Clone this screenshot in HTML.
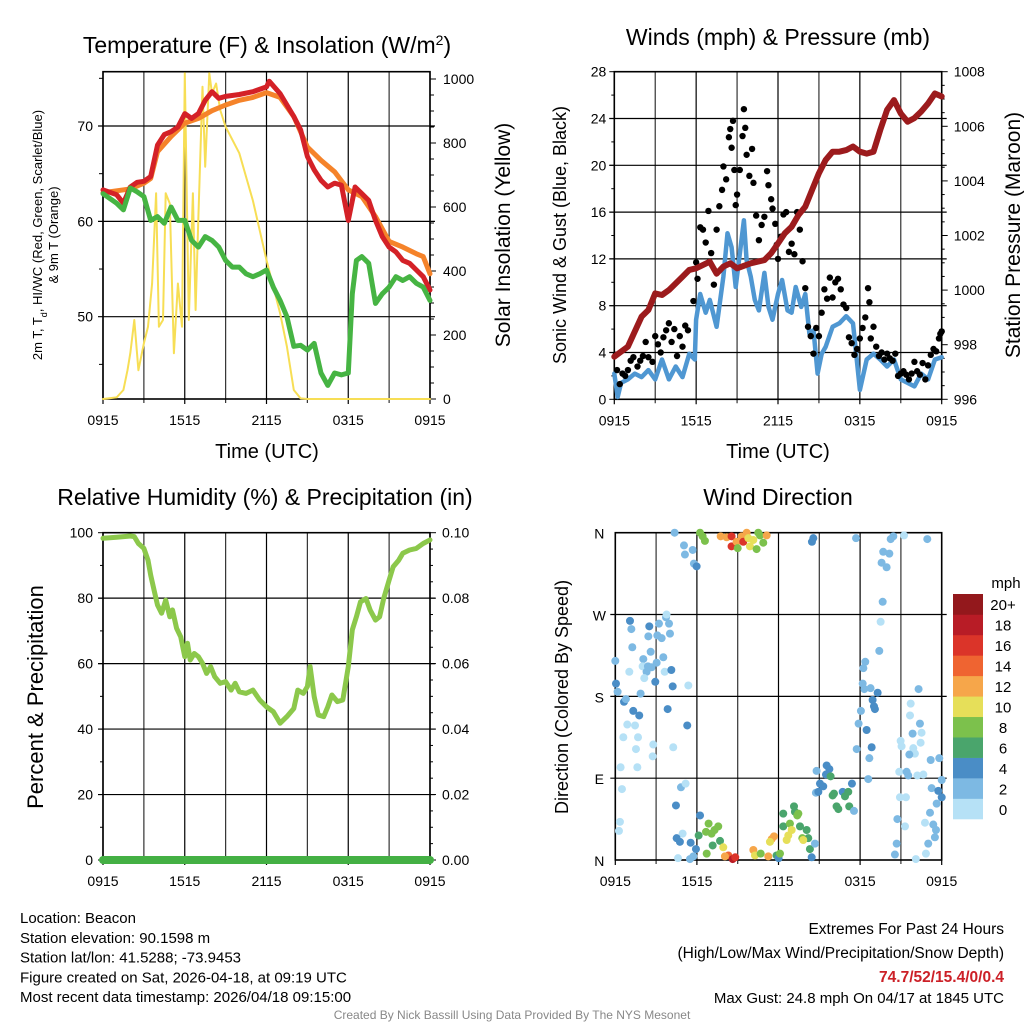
<!DOCTYPE html>
<html><head><meta charset="utf-8"><style>
body{margin:0;background:#fff;width:1024px;height:1024px;overflow:hidden;font-family:"Liberation Sans",sans-serif}
svg{position:absolute;left:0;top:0}
text{font-family:"Liberation Sans",sans-serif;fill:#000}
</style></head><body>
<svg id="s" width="1024" height="1024" viewBox="0 0 1024 1024"></svg>
<script>
const hrs=[0,1,1.5,2,2.5,3,3.5,4,4.5,5,5.5,6,6.5,7,7.5,8,8.5,9,10,11,12,12.2,13,14,14.5,15,15.5,16,16.5,17,17.5,18,18.5,19,19.5,20,20.5,21,21.5,22,22.5,23,23.5,24];
const tempRed=[63.3,62.8,61.9,63.6,64.1,64.2,64.7,68,69.1,69.4,69.9,71.3,70.8,71.3,72.7,73.6,72.9,73.1,73.3,73.6,74.1,74.7,73.4,71,69.6,66.8,65.4,64.3,63.6,64,63.8,60.1,63.6,62.9,62.2,60.1,58.4,57.3,56.8,55.9,55.6,54.9,54.2,52.8];
const tempOrangeHrs=[0,2,3,3.5,4,5,6,7,8,9,10,11,12,13,14,15,16,17,18,19,20,21,22,23,23.5,24];
const tempOrange=[63,63.4,64,64.5,67.3,68.9,70.3,70.8,71.6,72.2,72.7,73,73.5,73,71,67.8,66.4,65.2,63.3,62.6,60.5,57.9,57.3,56.6,56.3,54.5];
const dewHrs=[0,1,1.5,2,2.5,3,3.5,4,4.5,5,5.5,6,6.5,7,7.5,8,8.5,9,9.5,10,10.5,11,11.5,12,12.5,13,13.5,14,14.5,15,15.5,16,16.5,17,17.5,18,18.3,18.6,19,19.5,20,20.5,21,21.5,22,22.5,23,23.5,24];
const dewPoint=[62.9,61.9,61.2,63.5,63.1,62.6,60.1,60.5,59.8,61.5,60.1,60.1,58,57.3,58.4,58,57.3,55.9,55.2,55.2,54.5,54.2,54.5,54.9,53.1,51.7,50,46.9,47,46.5,47.2,44.1,42.8,44.1,43.9,44.1,52.4,55.9,56.3,55.6,51.4,52.4,53.1,54.2,53.8,54.2,53.5,53.1,51.7];
const solarHrs=[0,1,1.5,1.8,2,2.3,2.6,3,3.3,3.6,3.9,4.1,4.4,4.6,4.9,5.2,5.5,5.8,6,6.3,6.6,6.8,7,7.3,7.5,7.8,8,8.3,8.6,9,10,11,12,13,13.5,14,14.5,15,24];
const solar=[0,5,28,90,143,247,90,174,226,361,643,226,247,643,611,143,361,226,1018,247,643,278,570,976,726,1018,955,986,903,851,768,620,434,268,164,28,2,0,0];
const pHrs=[0,1,2,2.5,3,3.5,4,5,5.5,6,7,7.5,8,8.5,9,10,11,11.5,12,12.5,13,13.5,14,14.5,15,15.5,16,16.5,17,17.5,18,18.5,19,19.5,20,20.5,21,21.5,22,22.5,23,23.5,24];
const pressure=[997.56,997.93,999.03,999.27,999.88,999.82,1000,1000.49,1000.74,1000.8,1001.04,1000.6,1000.86,1000.98,1000.8,1000.98,1001.1,1001.35,1001.71,1002.08,1002.32,1002.75,1003.06,1003.67,1004.28,1004.77,1005.07,1005.07,1005.13,1005.26,1005.07,1005,1005.07,1005.87,1006.6,1006.96,1006.47,1006.17,1006.3,1006.54,1006.84,1007.2,1007.09];
const wHrs=[0,0.25,0.5,1,1.5,2,2.5,3,3.5,4,4.5,5,5.5,5.9,6,6.3,6.7,7,7.5,8,8.3,8.6,8.9,9.5,9.7,10,10.3,10.6,11,11.3,11.6,12,12.3,12.7,13,13.3,13.7,14,14.3,14.6,14.9,15.2,15.5,16,16.5,17,17.5,18,18.5,19,19.5,20,20.5,21,21.5,22,22.5,23,23.5,24];
const windSpd=[2.2,0.2,1.4,1.7,2.2,1.9,2.5,1.7,3.4,1.7,2.8,1.9,3.9,3.4,6.8,9,7.4,8.5,6.2,10.5,14.2,13,9.6,15.3,11.9,10.5,8.5,7.6,10.8,7.9,6.8,9,10.2,7.6,7.4,9.6,7.9,9,5.6,5.9,2.2,3.9,4.5,6.2,6.5,7.1,6.5,0.8,3.4,3.9,3.4,2.8,3.4,1.7,1.4,1.1,2.2,1.7,3.4,3.6];
const gustHrs=[0.1,0.2,0.4,0.6,0.8,1,1.2,1.4,1.7,1.9,2.1,2.3,2.5,2.8,3,3.2,3.4,3.6,3.8,4,4.2,4.4,4.6,4.8,5,5.2,5.4,5.8,6,6.1,6.3,6.5,6.7,6.9,7.1,7.3,7.5,7.7,7.9,8,8.2,8.4,8.5,8.6,8.7,8.8,8.9,9,9.2,9.4,9.5,9.6,9.7,9.9,10.1,10.2,10.4,10.6,10.8,11,11.2,11.3,11.5,11.6,11.8,11.9,12,12.2,12.4,12.6,12.8,13,13.2,13.4,13.6,13.8,14,14.2,14.4,14.6,14.8,15,15.2,15.4,15.6,15.8,16,16.2,16.4,16.6,16.8,17,17.2,17.4,17.6,17.8,18,18.2,18.4,18.6,18.7,18.8,19,19.2,19.4,19.6,19.8,20,20.2,20.4,20.6,20.8,21,21.2,21.4,21.6,21.8,22,22.2,22.4,22.6,22.8,23,23.2,23.4,23.6,23.8,23.9,24];
const gusts=[3.8,2.5,1.3,2.2,2,2.5,3.3,3.6,2.8,3.3,3.7,4.9,3.6,3.2,5.4,4.7,4,5.3,5.9,6.5,4.9,6,3.7,5.4,4.5,6.3,5.9,8.4,11.7,10.3,14.7,14.5,13.4,16.1,12.5,9.8,14.5,16.5,17.9,19.9,18.8,22.4,23.1,21.5,23.8,19.6,16.6,17.5,19.6,22.5,24.8,23.2,20.9,19.1,21.4,18.5,15.7,13.6,14.9,15.6,19.5,18.3,17.1,16.3,15,13.2,12,13.9,15.8,16,12.6,13.3,12.4,16,14.5,11.8,9.5,6.2,5.4,3.9,6.1,5.4,7.4,9.4,8.6,10.4,8.7,10,10.3,9.4,8.1,7.8,5.3,4.8,3.8,4.3,5.2,6.1,7,9.5,8.3,5.2,6.2,4.5,3.7,4,3.4,3.9,3.5,3.3,3.9,2,2.2,2.4,2.1,1.7,2.2,3.2,2.4,2.1,3.1,1.7,2.9,3.8,4.3,4.1,5.2,5.6,5.8];
const rhHrs=[0,1,2,2.3,2.6,3,3.3,3.5,3.8,4,4.3,4.6,4.9,5.1,5.4,5.7,6,6.2,6.4,6.7,7,7.3,7.6,7.9,8.2,8.6,9,9.4,9.7,10,10.5,11,11.5,12,12.5,13,13.5,14,14.3,14.7,15,15.2,15.5,15.8,16.2,16.5,16.8,17.2,17.6,18,18.3,18.6,18.9,19.3,19.6,20,20.3,20.6,21,21.3,21.7,22,22.5,23,23.5,24];
const rh=[98.3,98.6,99,98.8,96.7,95.2,91.6,87,81.5,77.9,75.4,79.4,74.3,76.4,70.8,68.2,62.1,66.2,61.1,63.1,62.1,60.1,57,59.1,56,54,54.5,51.9,54,51.4,50.9,51.9,48.9,46.8,45.3,41.8,43.8,46.3,51.9,50.9,53,59.1,49.9,44.3,43.8,46.8,50.4,48.4,48.9,59.1,70.3,74.3,78.9,79.9,76.4,73.3,74.3,79.9,85.5,89.6,91.6,93.7,94.7,95.2,96.7,97.8];
const precipHrs=[0,24];
const precip=[0,0];
// wind direction obs: [hour, direction deg, speed mph]
const windDirObs=[[0.0,219,2],[0.05,194,4],[0.17,185,2],[0.64,174,3],[0.78,177,2],[1.32,164,3],[1.76,159,3],[0.88,149,0.8],[1.45,148,0.8],[0.59,135,0.8],[1.67,135,0.8],[1.52,122,0.8],[0.39,102,0.8],[1.62,102,0.8],[0.49,78,0.8],[0.34,42,0.8],[0.27,32,0.8],[1.08,263,3],[1.18,254,2],[1.25,234,2],[1.03,207,0.8],[2.06,221,2],[2.01,213,0.8],[2.3,207,2],[2.4,213,2],[1.86,183,2],[2.13,200,0.8],[2.43,246,2],[2.5,257,3],[2.6,229,2],[2.67,212,2],[2.94,196,3],[3.04,217,2],[3.21,260,2],[3.09,247,2],[3.41,244,2],[3.53,223,2],[3.73,267,2],[3.77,270,0.8],[3.95,260,2],[4.02,249,2],[3.63,207,0.8],[4.12,209,3],[4.22,191,3],[3.85,166,3],[2.79,127,0.8],[2.75,114,0.8],[4.26,124,0.8],[5.29,148,3],[5.37,192,0.8],
[4.36,360,2],[5.05,346,2],[5.12,336,2],[5.69,341,2],[5.78,326,2],[5.98,323,3],[4.46,60,3],[4.83,80,2],[5.17,84,0.8],[4.95,29,0.8],[4.51,24,4],[4.75,20,4],[5.54,19,3],[5.93,12,4],[4.61,2,0.8],[5.49,1,2],[5.74,4,2],
[6.23,49,4],[6.13,27,6],[6.86,40,7],[6.67,31,7],[7.08,29,7],[7.3,33,7],[7.57,37,7],[7.16,16,6],[7.7,21,6],[7.94,14,10],[6.72,7,7],[8.31,5,14],[8.63,1,18],[8.82,3,16],[8.06,4,12],
[6.23,360,7],[6.42,356,7],[6.59,351,7],[7.75,356,12],[8.19,355,12],[8.55,356,16],[8.55,345,16],[8.92,350,12],[9.0,343,7],[9.29,356,12],[9.41,350,16],[9.66,360,12],[9.78,354,10],[9.9,345,10],[10.15,352,10],[10.39,342,7],[10.64,357,7],[10.88,349,7],[11.13,357,12],[10.51,360,8],
[10.15,11,12],[10.27,5,10],[10.69,7,7],[11.25,4,12],[11.5,23,12],[11.67,26,12],[11.37,20,10],[11.86,5,6],[12.01,2,4],[12.11,7,7],[12.35,51,6],[12.35,37,6],[12.72,27,10],[12.6,22,10],[12.84,40,7],[12.97,33,10],[13.14,59,6],[13.21,53,6],[13.38,49,7],[13.46,51,8],[13.58,37,6],[13.75,24,8],[14.07,33,6],[14.19,24,6],[14.31,12,6],[13.82,22,10],[14.44,3,4],[14.68,18,2],[14.56,354,4],[14.46,350,4],
[14.8,98,2],[15.54,104,4],[15.74,100,4],[15.49,94,3],[15.05,84,4],[15.29,81,4],[14.75,74,2],[14.93,75,4],[15.83,92,6],[15.98,71,6],[16.08,73,6],[16.27,59,6],[16.4,56,6],[16.72,75,4],[16.89,70,6],[17.13,75,6],[17.2,59,6],[17.4,84,4],[17.55,54,2],[17.7,354,2],
[18.06,164,2],[17.89,150,2],[18.24,211,2],[18.38,218,2],[18.19,194,2],[18.31,188,2],[18.77,189,2],[18.92,176,4],[19.02,169,4],[19.29,184,4],[19.09,166,4],[18.48,143,3],[17.75,122,2],[18.68,112,2],[18.85,124,3],[18.6,89,2],[19.41,230,2],[19.51,262,0.8],[19.66,284,2],[19.58,327,2],[19.7,339,2],[19.95,322,2],[20.15,337,2],[20.25,353,2],[20.44,356,2],[21.23,357,0.8],[22.94,353,2],[22.3,188,2],[21.72,172,0.8],[21.67,159,0.8],[22.4,150,2],[21.86,139,2],[22.52,140,0.8],[20.98,131,0.8],[21.05,125,0.8],[21.91,123,0.8],[22.03,117,0.8],[21.62,116,2],[22.45,129,0.8],[20.88,97,0.8],[21.42,97,2],[21.54,93,2],[22.21,93,0.8],[22.65,94,0.8],[23.19,110,2],[23.82,112,2],[24.0,88,2],[23.26,79,2],[23.75,76,3],[24.0,69,3],[23.63,62,2],[20.93,69,0.8],[21.37,69,0.8],[20.74,45,2],[21.3,37,0.8],[22.77,41,0.8],[23.14,52,2],[23.38,39,2],[23.58,33,2],[23.5,25,2],[23.01,18,2],[22.84,7,0.8],[20.69,18,2],[20.56,6,2],[22.1,1,0.8]];
const xTickLabels=["0915","1515","2115","0315","0915"];
const speedLabels=["0","2","4","6","8","10","12","14","16","18","20+"];
const speedColors=["#b6e1f6","#7db9e3","#4a8dc6","#4aa56c","#7cc14c","#e6df59","#f6a64a","#ef6431","#db3429","#b81c26","#93181c"];
const dirLabels=["N","E","S","W","N"];

const NS="http://www.w3.org/2000/svg";
const S=document.getElementById('s');
function el(tag,attrs,parent){const e=document.createElementNS(NS,tag);for(const k in attrs)e.setAttribute(k,attrs[k]);(parent||S).appendChild(e);return e;}
function txt(x,y,s,size,anchor,parent,extra){const t=el('text',Object.assign({x:x,y:y,'font-size':size,'text-anchor':anchor||'middle'},extra||{}),parent);t.textContent=s;return t;}
function lin(d0,d1,r0,r1){return v=>r0+(v-d0)*(r1-r0)/(d1-d0);}
function poly(xs,ys,fx,fy,color,w,parent){const pts=xs.map((h,i)=>fx(h).toFixed(1)+','+fy(ys[i]).toFixed(1)).join(' ');return el('polyline',{points:pts,fill:'none',stroke:color,'stroke-width':w,'stroke-linejoin':'round','stroke-linecap':'round'},parent);}

function frame(g,L,R,T,B,fx,hLines){
  for(let h=0;h<=24;h+=3){const x=fx(h);el('line',{x1:x,y1:T,x2:x,y2:B+(h%6==0?5:4),stroke:(h%6==0?'#000':'#333'),'stroke-width':1.2},g);}
  hLines.forEach(y=>el('line',{x1:L-5,y1:y,x2:R+5,y2:y,stroke:'#000','stroke-width':1.2},g));
  el('rect',{x:L,y:T,width:R-L,height:B-T,fill:'none',stroke:'#000','stroke-width':1.6},g);
  xTickLabels.forEach((s,i)=>txt(fx(i*6),B+26,s,14,'middle',g));
}
// ---------- Panel 1: temperature ----------
{
const g=el('g',{});


const L=103,R=430,T=71.7,B=399;
const fx=lin(0,24,L,R), fy=lin(50,70,316.7,126), fs=lin(0,1000,399,79);
frame(g,L,R,T,B,fx,[fy(50),fy(60),fy(70)]);
for(let v=45;v<=75;v+=5){if(v%10)el('line',{x1:L-4,y1:fy(v),x2:L,y2:fy(v),stroke:'#000'},g);}
[50,60,70].forEach(v=>txt(L-10,fy(v)+5,String(v),14,'end',g));
for(let v=0;v<=1000;v+=50){el('line',{x1:R,y1:fs(v),x2:R+(v%200?4:6),y2:fs(v),stroke:'#000'},g);}
for(let v=0;v<=1000;v+=200)txt(R+13,fs(v)+5,String(v),14,'start',g);
const sl=poly(solarHrs,solar,fx,fs,'#f7de55',2,g);


const ol=poly(tempOrangeHrs,tempOrange,fx,fy,'#f5832a',5,g);


const rl=poly(hrs,tempRed,fx,fy,'#d42127',5,g);


const dl=poly(dewHrs,dewPoint,fx,fy,'#46b443',5,g);


const t=txt(267,53,'Temperature (F) & Insolation (W/m',23,'middle',g);
const sup=el('tspan',{'baseline-shift':'super','font-size':14},t);sup.textContent='2';
const t2=el('tspan',{},t);t2.textContent=')';

const xt=txt(267,458,'Time (UTC)',20,'middle',g);

const yl=el('text',{transform:'translate(42,235) rotate(-90)','font-size':13,'text-anchor':'middle'},g);
yl.innerHTML='2m T, T<tspan baseline-shift="sub" font-size="9">d</tspan>, HI/WC (Red, Green, Scarlet/Blue)';

const yl2=el('text',{transform:'translate(58,235) rotate(-90)','font-size':13,'text-anchor':'middle'},g);yl2.textContent='& 9m T (Orange)';
const yr=el('text',{transform:'translate(510,235) rotate(-90)','font-size':21,'text-anchor':'middle'},g);yr.textContent='Solar Insolation (Yellow)';

}
// ---------- Panel 2: winds ----------
{
const g=el('g',{});


const L=614.3,R=941.7,T=71.7,B=399.3;
const fx=lin(0,24,L,R), fy=lin(0,28,B,T), fp=lin(996,1008,B,T);
const hl=[];for(let v=4;v<=24;v+=4)hl.push(fy(v));
frame(g,L,R,T,B,fx,hl);
for(let v=0;v<=28;v+=2){el('line',{x1:L-(v%4?3:5),y1:fy(v),x2:L,y2:fy(v),stroke:'#000'},g);}
for(let v=0;v<=28;v+=4)txt(L-8,fy(v)+5,String(v),14,'end',g);
for(let v=996;v<=1008;v+=0.5){el('line',{x1:R,y1:fp(v),x2:R+(v%2?3:6),y2:fp(v),stroke:'#000'},g);}
for(let v=996;v<=1008;v+=2)txt(R+12,fp(v)+5,String(v),14,'start',g);
const bl=poly(wHrs,windSpd,fx,fy,'#4f97d2',4.5,g);


gustHrs.forEach((h,i)=>{const c=el('circle',{cx:fx(h),cy:fy(gusts[i]),r:3.2,fill:'#000'},g);

});
const pl=poly(pHrs,pressure,fx,fp,'#9c1b1d',6,g);


const t=txt(778,45,'Winds (mph) & Pressure (mb)',23,'middle',g);

txt(778,458,'Time (UTC)',20,'middle',g);
const yl=el('text',{transform:'translate(566,235) rotate(-90)','font-size':18,'text-anchor':'middle'},g);yl.textContent='Sonic Wind & Gust (Blue, Black)';

const yr=el('text',{transform:'translate(1020,235) rotate(-90)','font-size':21,'text-anchor':'middle'},g);yr.textContent='Station Pressure (Maroon)';

}
// ---------- Panel 3: RH ----------
{
const g=el('g',{});


const L=103,R=430,T=532.7,B=860;
const fx=lin(0,24,L,R), fy=lin(0,100,B,T), fq=lin(0,0.1,B,T);
const hl=[];for(let v=20;v<=80;v+=20)hl.push(fy(v));
frame(g,L,R,T,B,fx,hl);
for(let v=0;v<=100;v+=10){el('line',{x1:L-(v%20?3:5),y1:fy(v),x2:L,y2:fy(v),stroke:'#000'},g);}
for(let v=0;v<=100;v+=20)txt(L-10,fy(v)+5,String(v),14,'end',g);
for(let v=0;v<=10;v+=0.5){el('line',{x1:R,y1:fq(v/100),x2:R+(v%2?3:6),y2:fq(v/100),stroke:'#000'},g);}
for(let v=0;v<=10;v+=2)txt(R+12,fq(v/100)+5,(v/100).toFixed(2),14,'start',g);
const rl=poly(rhHrs,rh,fx,fy,'#8cc84b',5,g);


const pr=poly(precipHrs,precip,fx,fq,'#44b044',8,g);


const t=txt(265,505,'Relative Humidity (%) & Precipitation (in)',23,'middle',g);

const yl=el('text',{transform:'translate(43,697) rotate(-90)','font-size':22,'text-anchor':'middle'},g);yl.textContent='Percent & Precipitation';

}
// ---------- Panel 4: wind direction ----------
{
const g=el('g',{});


const L=615.3,R=941.7,T=532.7,B=860;
const fx=lin(0,24,L,R), fy=lin(0,360,B,T);
const hl=[];for(let v=90;v<=270;v+=90)hl.push(fy(v));
frame(g,L,R,T,B,fx,hl);
dirLabels.forEach((s,i)=>txt(L-16,fy(i*90)+6,s,14,'middle',g));
windDirObs.forEach(o=>{const bin=Math.min(10,Math.round(o[2]/2));
const c=el('circle',{cx:fx(o[0]),cy:fy(o[1]),r:4,fill:speedColors[bin]},g);

});
const t=txt(778,505,'Wind Direction',23,'middle',g);

const yl=el('text',{transform:'translate(568,697) rotate(-90)','font-size':18,'text-anchor':'middle'},g);yl.textContent='Direction (Colored By Speed)';

const cb=el('g',{},g);


const cbT=594,cbB=819,h=(cbB-cbT)/11;
speedLabels.forEach((s,i)=>{const y=cbB-(i+1)*h;
el('rect',{x:953,y:y,width:30,height:h+0.3,fill:speedColors[i]},cb);
txt(1003,y+h/2+6,s,15,'middle',cb);});
txt(1006,588,'mph',15,'middle',cb);
}
// ---------- Text blocks ----------
{
const g=el('g',{});


["Location: Beacon","Station elevation: 90.1598 m","Station lat/lon: 41.5288; -73.9453","Figure created on Sat, 2026-04-18, at 09:19 UTC","Most recent data timestamp: 2026/04/18 09:15:00"].forEach((s,i)=>txt(20,923+i*19.8,s,15,'start',g));
const e=el('g',{});


txt(1004,934,'Extremes For Past 24 Hours',15.5,'end',e);
txt(1004,958,'(High/Low/Max Wind/Precipitation/Snow Depth)',15.5,'end',e);
const red=txt(1004,982,'74.7/52/15.4/0/0.4',15.5,'end',e,{'font-weight':'bold'});red.style.fill='#cc2027';
txt(1004,1003,'Max Gust: 24.8 mph On 04/17 at 1845 UTC',15,'end',e);
const f=txt(512,1019,'Created By Nick Bassill Using Data Provided By The NYS Mesonet',12,'middle');
f.style.fill='#888';


}
</script>
</body></html>
